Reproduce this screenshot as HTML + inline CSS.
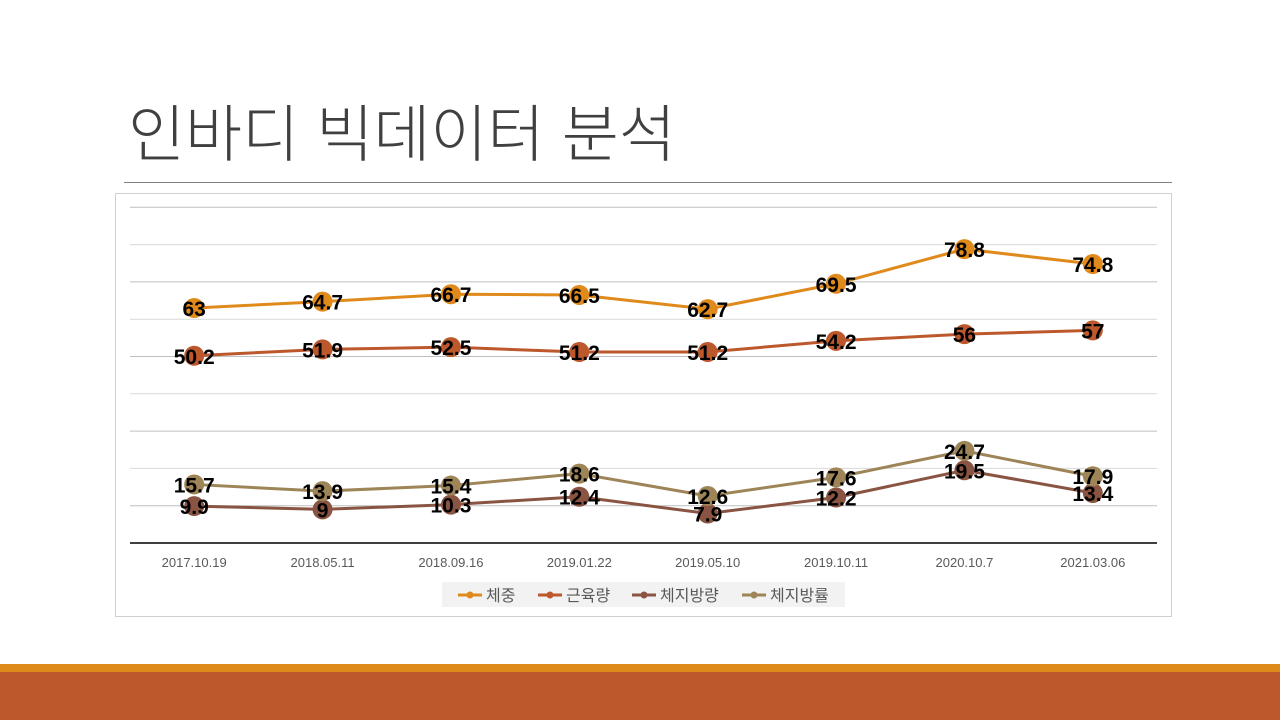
<!DOCTYPE html>
<html><head><meta charset="utf-8"><style>
body{margin:0;width:1280px;height:720px;background:#fff;position:relative;overflow:hidden;font-family:"Liberation Sans","Noto Sans CJK KR",sans-serif}
</style></head><body>
<div style="position:absolute;left:128px;top:96px;font-size:62px;color:#404040;font-family:'Liberation Sans','Noto Sans CJK KR',sans-serif;font-weight:300;line-height:80px">인바디 빅데이터 분석</div>
<div style="position:absolute;left:124px;top:182px;width:1048px;height:1px;background:#7f7f7f"></div>
<div style="position:absolute;left:0;top:664px;width:1280px;height:8px;background:#DE8A1A"></div>
<div style="position:absolute;left:0;top:672px;width:1280px;height:48px;background:#BC582C"></div>
<svg id="chart" width="1280" height="720" style="position:absolute;left:0;top:0" xmlns="http://www.w3.org/2000/svg"></svg>
<script>
const categories=["2017.10.19","2018.05.11","2018.09.16","2019.01.22","2019.05.10","2019.10.11","2020.10.7","2021.03.06"];
const seriesNames=["체중","근육량","체지방량","체지방률"];
const weight=[63,64.7,66.7,66.5,62.7,69.5,78.8,74.8];
const muscle=[50.2,51.9,52.5,51.2,51.2,54.2,56,57];
const fatMass=[9.9,9,10.3,12.4,7.9,12.2,19.5,13.4];
const fatRate=[15.7,13.9,15.4,18.6,12.6,17.6,24.7,17.9];
const gridTicks=[10,20,30,40,50,60,70,80,90];
const colors=["#E08A1C","#BC582C","#8A5442","#9E8558"];
const NS="http://www.w3.org/2000/svg";
const svg=document.getElementById('chart');
const x0=130,x1=1157,y0=543,pxPerUnit=3.73;
const xs=i=>x0+(x1-x0)/categories.length*(i+0.5);
const ys=v=>y0-v*pxPerUnit;
function mk(t,a){const e=document.createElementNS(NS,t);for(const k in a)e.setAttribute(k,a[k]);svg.appendChild(e);return e;}
let e=mk('rect',{x:115.5,y:193.5,width:1056,height:423,fill:'#fff',stroke:'#d0d0d0'});


gridTicks.forEach(t=>{const g=mk('line',{x1:x0,x2:x1,y1:ys(t),y2:ys(t),stroke:t%20==0?'#d9d9d9':'#bfbfbf','stroke-width':1});

});
e=mk('line',{x1:x0,x2:x1,y1:y0,y2:y0,stroke:'#404040','stroke-width':2});


categories.forEach((c,i)=>{const t=mk('text',{x:xs(i),y:567,'text-anchor':'middle','font-size':13,fill:'#595959'});t.textContent=c;

});
const all=[weight,muscle,fatMass,fatRate];
all.forEach((arr,s)=>{
 const p=mk('polyline',{points:arr.map((v,i)=>xs(i)+','+ys(v)).join(' '),fill:'none',stroke:colors[s],'stroke-width':3});
 
 
 arr.forEach((v,i)=>{const c=mk('circle',{cx:xs(i),cy:ys(v),r:10,fill:colors[s]});
 
 });
});
all.forEach((arr,s)=>{arr.forEach((v,i)=>{const t=mk('text',{x:xs(i),y:ys(v)+8,'text-anchor':'middle','font-size':21,'font-weight':'bold',fill:'#000'});t.textContent=v;

});});
e=mk('rect',{x:442,y:582,width:403,height:25,fill:'#f2f2f2'});


const lx=[458,538,632,742];
seriesNames.forEach((n,s)=>{
 const l=mk('line',{x1:lx[s],x2:lx[s]+24,y1:595,y2:595,stroke:colors[s],'stroke-width':3});
 
 
 const c=mk('circle',{cx:lx[s]+12,cy:595,r:3.5,fill:colors[s]});
 
 
 const t=mk('text',{x:lx[s]+28,y:601,'font-size':16,fill:'#595959'});t.textContent=n;
 
 
});
</script>
</body></html>
